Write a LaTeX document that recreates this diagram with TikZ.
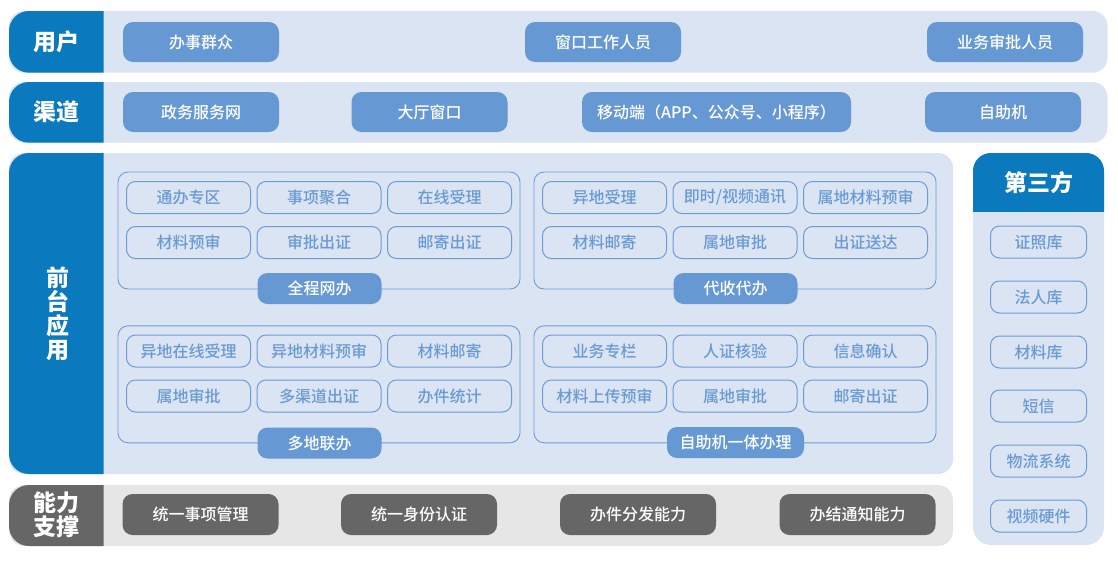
\documentclass[tikz,border=0pt]{standalone}
\usepackage{fontspec}
\setmainfont{Noto Sans CJK SC}
\newfontfamily\medfont{Noto Sans CJK SC Medium}
\definecolor{dblue}{HTML}{0A79BD}
\definecolor{bandblue}{HTML}{DAE4F2}
\definecolor{mblue}{HTML}{6699D4}
\definecolor{lineblue}{HTML}{6C9CD6}
\definecolor{txtblue}{HTML}{6A9AD3}
\definecolor{dgray}{HTML}{666666}
\definecolor{bandgray}{HTML}{E6E6E6}
\begin{document}
\begin{tikzpicture}[x=1pt,y=-1pt,
  boxfont/.style={font=\medfont\fontsize{16}{18}\selectfont},
  bluebox/.style={boxfont, fill=mblue, text=white, rounded corners=10pt, minimum width=156pt, minimum height=40pt, inner sep=0pt},
  graybox/.style={bluebox, fill=dgray, minimum height=41pt},
  outbox/.style={boxfont, draw=lineblue, line width=1pt, fill=bandblue, text=txtblue, rounded corners=9pt, minimum width=124pt, minimum height=32pt, inner sep=0pt},
  sideitem/.style={outbox, minimum width=96pt},
  groupbox/.style={draw=lineblue, line width=0.9pt, rounded corners=10pt, minimum width=402pt, minimum height=117pt, inner sep=0pt},
  grouplabel/.style={bluebox, minimum width=124pt, minimum height=31pt},
  lab/.style={text=white, font=\bfseries\fontsize{23}{24}\selectfont, align=center, inner sep=0pt}
]
\useasboundingbox (0,0) rectangle (1118,560);

% ---------- bands ----------
\fill[bandblue, rounded corners=15pt] (9,11) rectangle (1107.5,72.7);
\fill[bandblue, rounded corners=15pt] (9,82) rectangle (1107.5,142.7);
\fill[bandblue, rounded corners=15pt] (9,153) rectangle (953,474);
\fill[bandgray, rounded corners=15pt] (9,485) rectangle (953,546);
\fill[bandblue, rounded corners=18pt] (973,153) rectangle (1104,545);

\begin{scope}
  \clip (0,0) rectangle (103.5,560);
  \fill[dblue, rounded corners=20pt] (9,11) rectangle (150,72.7);
  \fill[dblue, rounded corners=20pt] (9,82) rectangle (150,142.7);
  \fill[dblue, rounded corners=20pt] (9,153) rectangle (150,474);
  \fill[dgray, rounded corners=20pt] (9,485) rectangle (150,546);
\end{scope}
\begin{scope}
  \clip (960,0) rectangle (1118,211.5);
  \fill[dblue, rounded corners=18pt] (973,153) rectangle (1104,260);
\end{scope}

% ---------- band labels ----------
\node[lab] (lUser) at (56.5,42) {用户};
\node[lab] (lChan) at (56.5,112) {渠道};
\node[lab] (lFront) at (57.5,313.5) {前\\台\\应\\用};
\node[lab] (lSup) at (56.5,515) {能力\\支撑};
\node[lab] (lThird) at (1038.5,183) {第三方};

% ---------- row 1 ----------
\node[bluebox] (u1) at (201,42) {办事群众};
\node[bluebox] (u2) at (603,42) {窗口工作人员};
\node[bluebox] (u3) at (1005,42) {业务审批人员};

% ---------- row 2 ----------
\node[bluebox] (c1) at (201,112) {政务服务网};
\node[bluebox] (c2) at (429.5,112) {大厅窗口};
\node[bluebox, minimum width=269pt] (c3) at (716.5,112) {移动端（APP、公众号、小程序）};
\node[bluebox] (c4) at (1003,112) {自助机};

% ---------- groups ----------
\node[groupbox] (g1) at (319,230.5) {};
\node[groupbox] (g2) at (735,230.5) {};
\node[groupbox] (g3) at (319,384.3) {};
\node[groupbox] (g4) at (735,384.3) {};

% group 1
\node[outbox] (a11) at (188.5,197.5) {通办专区};
\node[outbox] (a12) at (319,197.5) {事项聚合};
\node[outbox] (a13) at (449.5,197.5) {在线受理};
\node[outbox] (a21) at (188.5,242.5) {材料预审};
\node[outbox] (a22) at (319,242.5) {审批出证};
\node[outbox] (a23) at (449.5,242.5) {邮寄出证};
\node[grouplabel] (gl1) at (319.5,288.5) {全程网办};

% group 2
\node[outbox] (b11) at (604.5,197.5) {异地受理};
\node[outbox] (b12) at (735,197.5) {即时/视频通讯};
\node[outbox] (b13) at (865.5,197.5) {属地材料预审};
\node[outbox] (b21) at (604.5,242.5) {材料邮寄};
\node[outbox] (b22) at (735,242.5) {属地审批};
\node[outbox] (b23) at (865.5,242.5) {出证送达};
\node[grouplabel] (gl2) at (735.5,288.5) {代收代办};

% group 3
\node[outbox] (c11) at (188.5,351) {异地在线受理};
\node[outbox] (c12) at (319,351) {异地材料预审};
\node[outbox] (c13) at (449.5,351) {材料邮寄};
\node[outbox] (c21) at (188.5,396) {属地审批};
\node[outbox] (c22) at (319,396) {多渠道出证};
\node[outbox] (c23) at (449.5,396) {办件统计};
\node[grouplabel] (gl3) at (319.5,443) {多地联办};

% group 4
\node[outbox] (d11) at (604.5,351) {业务专栏};
\node[outbox] (d12) at (735,351) {人证核验};
\node[outbox] (d13) at (865.5,351) {信息确认};
\node[outbox] (d21) at (604.5,396) {材料上传预审};
\node[outbox] (d22) at (735,396) {属地审批};
\node[outbox] (d23) at (865.5,396) {邮寄出证};
\node[grouplabel, minimum width=137pt] (gl4) at (735.5,442.5) {自助机一体办理};

% ---------- third party ----------
\node[sideitem] (t1) at (1038.5,242) {证照库};
\node[sideitem] (t2) at (1038.5,297) {法人库};
\node[sideitem] (t3) at (1038.5,352) {材料库};
\node[sideitem] (t4) at (1038.5,406) {短信};
\node[sideitem] (t5) at (1038.5,461) {物流系统};
\node[sideitem] (t6) at (1038.5,516) {视频硬件};

% ---------- row 4 ----------
\node[graybox] (s1) at (200.5,514.5) {统一事项管理};
\node[graybox] (s2) at (419,514.5) {统一身份认证};
\node[graybox] (s3) at (638,514.5) {办件分发能力};
\node[graybox] (s4) at (857.5,514.5) {办结通知能力};
\end{tikzpicture}
\end{document}
